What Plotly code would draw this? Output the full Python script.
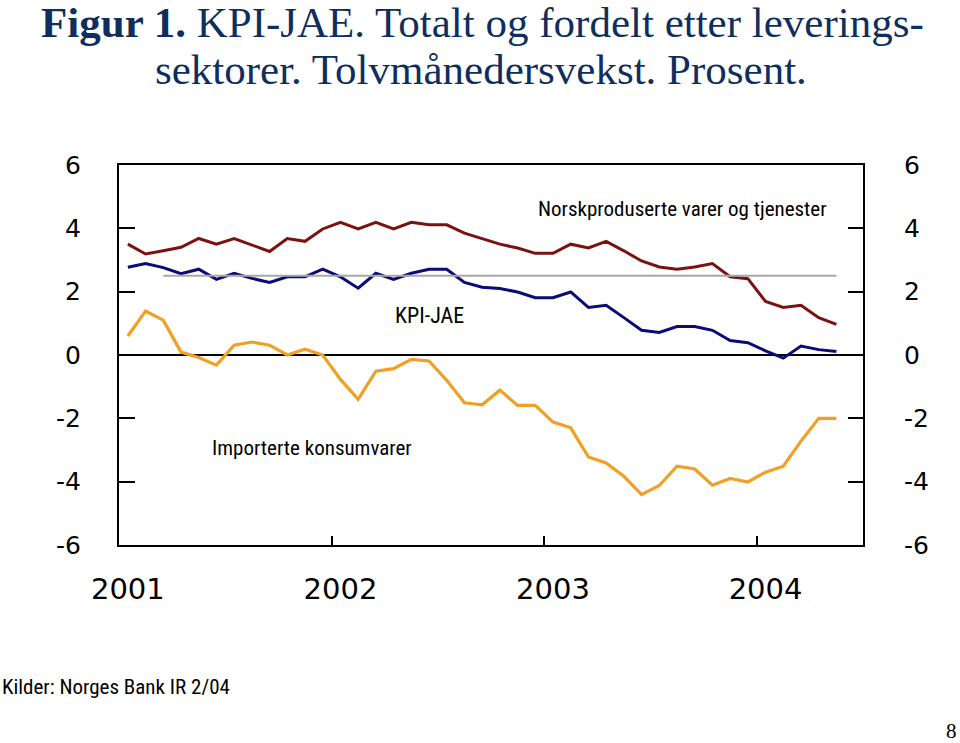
import plotly.graph_objects as go

# ---- data (monthly, Jan 2001 - May 2004) ----
years = [2001, 2002, 2003, 2004]
months = [f"{y}-{m:02d}" for y in years for m in range(1, 13)][:41]

norsk = [3.50, 3.19, 3.29, 3.40, 3.68, 3.50, 3.68, 3.47, 3.27, 3.68,
         3.59, 3.98, 4.19, 3.98, 4.19, 3.98, 4.19, 4.11, 4.11, 3.85,
         3.68, 3.50, 3.38, 3.21, 3.21, 3.50, 3.38, 3.59, 3.29, 2.97,
         2.78, 2.71, 2.78, 2.89, 2.47, 2.41, 1.69, 1.50, 1.57, 1.18,
         0.97]
kpi_jae = [2.77, 2.89, 2.76, 2.57, 2.71, 2.39, 2.58, 2.42, 2.29, 2.47,
           2.47, 2.71, 2.47, 2.11, 2.58, 2.39, 2.58, 2.71, 2.71, 2.29,
           2.14, 2.10, 1.99, 1.81, 1.81, 1.99, 1.50, 1.57, 1.18, 0.78,
           0.71, 0.90, 0.90, 0.78, 0.46, 0.39, 0.13, -0.10, 0.28, 0.17,
           0.11]
importert = [0.60, 1.39, 1.10, 0.09, -0.08, -0.32, 0.31, 0.41, 0.31, 0.00,
             0.18, 0.00, -0.77, -1.40, -0.51, -0.43, -0.14, -0.19, -0.80, -1.51,
             -1.57, -1.11, -1.59, -1.59, -2.12, -2.30, -3.22, -3.41, -3.83, -4.41,
             -4.12, -3.51, -3.60, -4.11, -3.90, -4.01, -3.70, -3.51, -2.72, -2.00,
             -2.00]
target_value = 2.5
target_start = "2001-03"

year_labels = [str(y) for y in years]
y_ticks = [-6, -4, -2, 0, 2, 4, 6]
y_ticktext = [str(v) for v in y_ticks]

# ---- build ----
x = list(range(len(months)))
ts = months.index(target_start)
x_target = x[ts:]
y_target = [target_value] * len(x_target)

year_pos = [months.index(f"{y}-01") for y in years]
year_bounds = [p - 0.5 for p in year_pos[1:]]

fig = go.Figure()
# target line lives on the right-hand axis (same scale) so that axis is drawn
fig.add_trace(go.Scatter(x=x_target, y=y_target, mode="lines", yaxis="y2",
                         line=dict(color="#A8A8A8", width=2), hoverinfo="skip"))
fig.add_trace(go.Scatter(x=x, y=norsk, mode="lines",
                         line=dict(color="#7A1212", width=3)))
fig.add_trace(go.Scatter(x=x, y=kpi_jae, mode="lines",
                         line=dict(color="#0A0A78", width=3)))
fig.add_trace(go.Scatter(x=x, y=importert, mode="lines",
                         line=dict(color="#F0A024", width=3.2)))

tickfont = dict(family="DejaVu Sans, Arial, sans-serif", size=25, color="black")
narrow = "Liberation Sans Narrow, Arial Narrow, Roboto Condensed, Liberation Sans, sans-serif"

fig.update_layout(
    width=960, height=743,
    margin=dict(l=119, r=97, t=165, b=198),
    paper_bgcolor="white", plot_bgcolor="white",
    showlegend=False,
    xaxis=dict(range=[-0.5, len(months) + 0.5],
               tickvals=year_pos, ticktext=year_labels,
               ticks="", showgrid=False, zeroline=False,
               showline=True, linecolor="black", linewidth=2, mirror=True,
               tickfont=dict(family="DejaVu Sans, Arial, sans-serif", size=29, color="black"),
               ticklabelstandoff=17,
               minor=dict(tickvals=year_bounds, ticks="inside", ticklen=9,
                          tickwidth=2, tickcolor="black")),
    yaxis=dict(range=[-6, 6], tickvals=y_ticks, ticktext=y_ticktext,
               ticks="inside", ticklen=16, tickwidth=1.5, tickcolor="black",
               showgrid=False, zeroline=True, zerolinecolor="black", zerolinewidth=1.5,
               showline=True, linecolor="black", linewidth=2,
               tickfont=tickfont, ticklabelstandoff=31),
    yaxis2=dict(range=[-6, 6], tickvals=y_ticks, ticktext=y_ticktext,
                overlaying="y", side="right",
                ticks="inside", ticklen=15, tickwidth=1.5, tickcolor="black",
                showgrid=False, zeroline=False,
                showline=True, linecolor="black", linewidth=2,
                tickfont=tickfont, ticklabelstandoff=34),
)

title_col = "#0E2F5E"
serif = "Liberation Serif, Times New Roman, serif"
fig.add_annotation(xref="paper", yref="paper", x=(482 - 119) / 744, y=(545 - 22) / 380,
                   xanchor="center", yanchor="middle", showarrow=False, borderpad=0,
                   text="<b>Figur 1.</b> KPI-JAE. Totalt og fordelt etter leverings-",
                   font=dict(family=serif, size=43, color=title_col))
fig.add_annotation(xref="paper", yref="paper", x=(481 - 119) / 744, y=(545 - 69) / 380,
                   xanchor="center", yanchor="middle", showarrow=False, borderpad=0,
                   text="sektorer. Tolvmånedersvekst. Prosent.",
                   font=dict(family=serif, size=43, color=title_col))

fig.add_annotation(x=31.3, y=4.6, text="Norskproduserte varer og tjenester",
                   showarrow=False, font=dict(family=narrow, size=21, color="black"))
fig.add_annotation(x=17, y=1.25, text="KPI-JAE",
                   showarrow=False, font=dict(family=narrow, size=22, color="black"))
fig.add_annotation(x=10.4, y=-2.95, text="Importerte konsumvarer",
                   showarrow=False, font=dict(family=narrow, size=21, color="black"))

fig.add_annotation(xref="paper", yref="paper", x=-119 / 744, y=(545 - 687) / 380,
                   xanchor="left", yanchor="middle", showarrow=False,
                   text="Kilder: Norges Bank IR 2/04",
                   font=dict(family=narrow, size=21, color="black"))
fig.add_annotation(xref="paper", yref="paper", x=(959 - 119) / 744, y=(545 - 731) / 380,
                   xanchor="right", yanchor="middle", showarrow=False,
                   text="8", font=dict(family=serif, size=21, color="black"))

fig.write_html("out.html",
               config={"displayModeBar": False},
               post_script="document.body.style.margin='0';")
